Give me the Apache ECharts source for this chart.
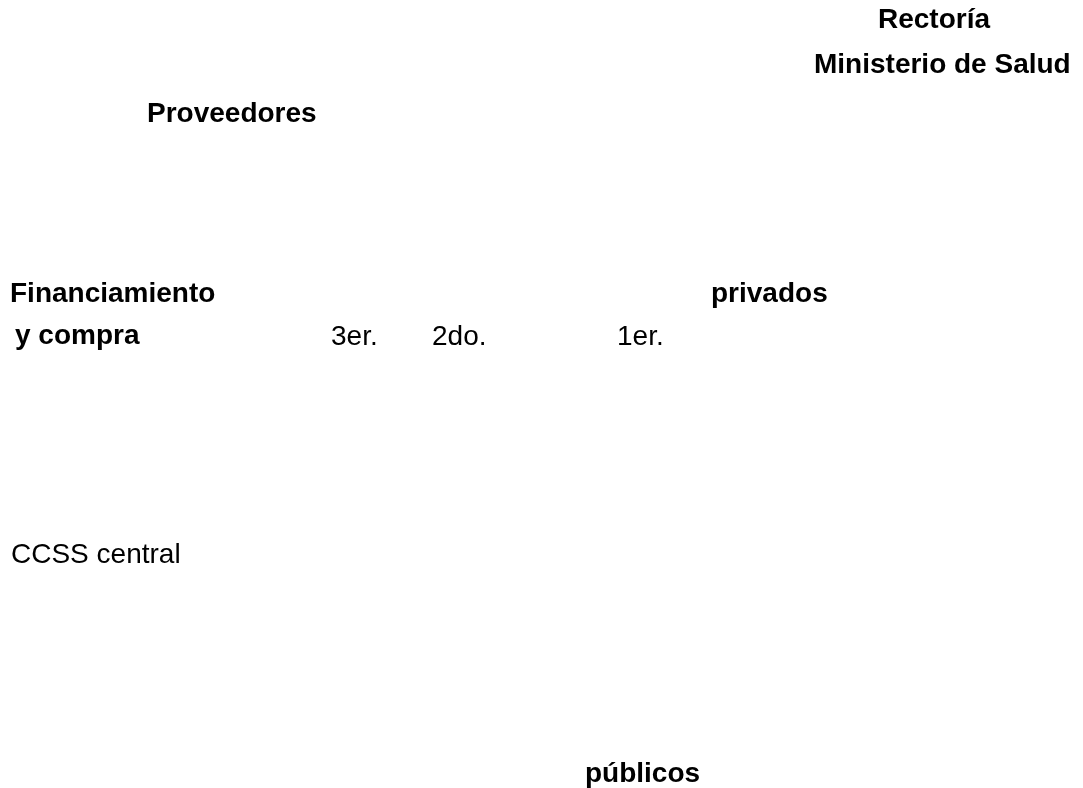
<!DOCTYPE html>
<html>
<head>
<meta charset="utf-8">
<script src="https://cdn.jsdelivr.net/npm/echarts@6/dist/echarts.min.js"></script>
<style>
html,body{margin:0;padding:0;background:#fff;}
#chart{width:1083px;height:788px;}
</style>
</head>
<body>
<div id="chart"></div>
<script>
// Text content of the diagram
var boldLabels = ['Rectoría', 'Ministerio de Salud', 'Proveedores', 'Financiamiento', 'privados', 'y compra', 'públicos'];
var regularLabels = ['3er.', '2do.', '1er.', 'CCSS central'];

// Layout (left x, text baseline y) for each label, in pixels
var boldPos = [[878, 28], [814, 73], [147, 122], [10, 302], [711, 302], [15, 344], [585, 782]];
var regularPos = [[331, 345], [432, 345], [617, 345], [11, 563]];

var FONT_SIZE = 28;
var FAMILY = '"Liberation Sans", Arial, Helvetica, sans-serif';

function makeText(label, pos, bold) {
  return {
    type: 'text',
    x: pos[0],
    y: pos[1] - 8,
    style: {
      text: label,
      fill: '#000',
      font: (bold ? 'bold ' : '') + FONT_SIZE + 'px ' + FAMILY,
      textAlign: 'left',
      textVerticalAlign: 'middle'
    }
  };
}

var elements = [];
boldLabels.forEach(function (l, i) { elements.push(makeText(l, boldPos[i], true)); });
regularLabels.forEach(function (l, i) { elements.push(makeText(l, regularPos[i], false)); });

var chart = echarts.init(document.getElementById('chart'), null, {renderer: 'canvas'});
chart.setOption({
  backgroundColor: '#ffffff',
  animation: false,
  graphic: { elements: elements }
});
</script>
</body>
</html>
